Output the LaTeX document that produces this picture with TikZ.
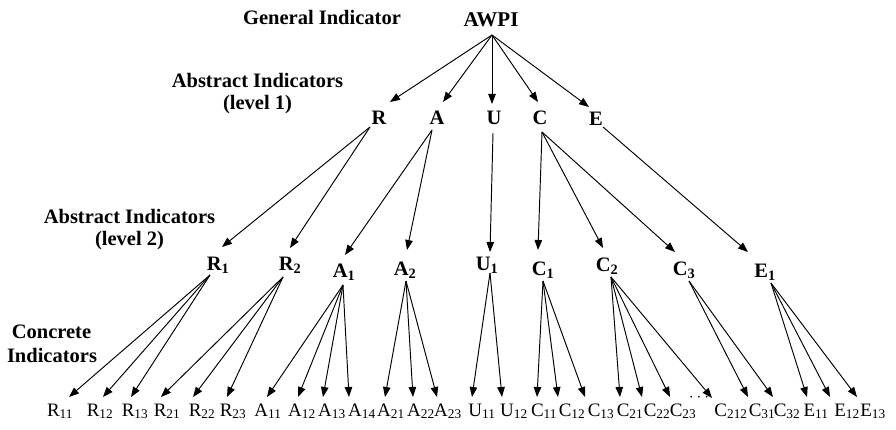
\documentclass[tikz,border=0pt]{standalone}
\usepackage{fontspec}
\setmainfont{Liberation Serif}
\usetikzlibrary{arrows.meta}
\begin{document}
\begin{tikzpicture}[x=1pt,y=-1pt,
  head/.style={font=\bfseries\fontsize{20.5}{24}\selectfont, inner sep=0pt, anchor=base},
  key/.style={font=\bfseries\fontsize{20.5}{24}\selectfont, inner sep=1pt, anchor=base},
  leaf/.style={font=\fontsize{19}{22}\selectfont, inner sep=1pt, anchor=base},
  link/.style={-{Triangle[length=10pt,width=7.5pt]}, line width=0.95pt},
]
\useasboundingbox (0,0) rectangle (896,430);

% level captions
\node[head] (gen)  at (322,25)    {General Indicator};
\node[head] (ab1a) at (257.5,88)  {Abstract Indicators};
\node[head] (ab1b) at (257.5,110) {(level 1)};
\node[head] (ab2a) at (129.5,224) {Abstract Indicators};
\node[head] (ab2b) at (129.5,246) {(level 2)};
\node[head] (con1) at (51.5,338)  {Concrete};
\node[head] (con2) at (52,362)    {Indicators};

% general indicator
\node[key, font=\bfseries\fontsize{21}{24}\selectfont] (AWPI) at (491,27) {AWPI};

% abstract indicators, level 1
\foreach \L/\x/\y in {R/379/125, A/437/125, U/494/125, C/540/125, E/596/126}
  \node[key] (\L) at (\x,\y) {\L};

% abstract indicators, level 2
\foreach \L/\s/\x/\y in {R/1/218/270, R/2/290/270, A/1/344/277, A/2/405/275,
    U/1/487/270, C/1/543/275, C/2/607/271, C/3/684/275, E/1/765/277}
  \node[key] (\L\s) at (\x,\y) {\L\textsubscript{\s}};

% concrete indicators
\foreach \L/\s/\x in {R/11/60, R/12/100, R/13/135, R/21/167, R/22/202, R/23/233,
    A/11/268, A/12/302, A/13/332, A/14/362, A/21/391, A/22/421, A/23/448,
    U/11/482, U/12/514, C/11/544, C/12/572, C/13/601,
    C/21/630, C/22/657, C/23/683, C/212/731, C/31/762, C/32/787,
    E/11/816, E/12/847, E/13/873}
  \node[leaf] (\L\s) at (\x,416) {\L\textsubscript{\s}};
\node[leaf, font=\fontsize{17}{19}\selectfont] (dots) at (699,401) {$\cdots$};

% points where the connectors leave each parent
\foreach \p/\dx/\dy in {AWPI/1/8, R/-9/2, A/-5/5, U/-1/8, C/2/7, E/7/1,
    R1/-8/5, R2/-7/7, A1/-1/8, A2/1/6, U1/3/3, C1/0/6, C2/4/6, C3/5/6, E1/6/6}
  \coordinate (\p-out) at ([shift={(\dx,\dy)}]\p.base);

% connectors
\foreach \p/\c/\dx/\dy in {
    AWPI/R/11/-23, AWPI/A/6/-23, AWPI/U/-2/-21, AWPI/C/-2/-23, AWPI/E/-7/-19,
    R/R1/4/-23, R/R2/0/-22, A/A1/1/-22, A/A2/2/-25, U/U1/3/-18,
    C/C1/-5/-25, C/C2/-4/-23, C/C3/-9/-23, E/E1/-17/-25,
    R1/R11/9/-19, R1/R12/3/-19, R1/R13/-4/-19,
    R2/R21/-6/-19, R2/R22/-9/-19, R2/R23/-6/-19,
    A1/A11/-1/-19, A1/A12/-4/-19, A1/A13/-9/-19, A1/A14/-13/-19,
    A2/A21/-6/-19, A2/A22/-8/-19, A2/A23/-11/-19,
    U1/U11/-10/-19, U1/U12/-12/-19,
    C1/C11/-7/-19, C1/C12/-14/-19, C1/C13/-16/-19,
    C2/C21/-10/-19, C2/C22/-15/-19, C2/C23/-13/-19, C2/C212/-19/-18,
    C3/C31/-14/-19, C3/C32/-14/-19,
    E1/E11/-9/-19, E1/E12/-17/-19, E1/E13/-16/-19}
  \draw[link] (\p-out) -- ([shift={(\dx,\dy)}]\c.base);
\end{tikzpicture}
\end{document}
